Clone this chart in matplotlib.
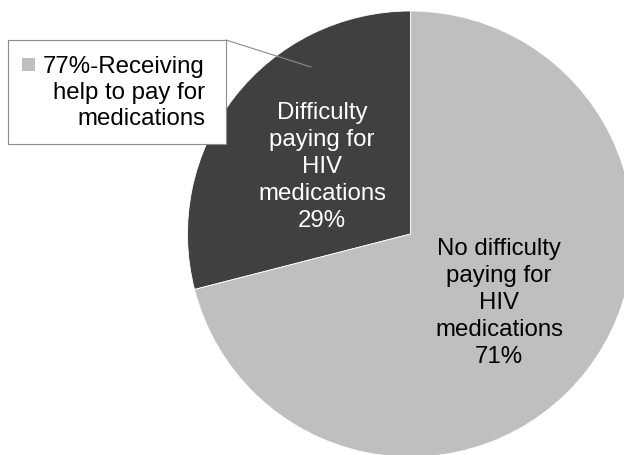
import matplotlib
matplotlib.use("Agg")
import matplotlib.pyplot as plt
from matplotlib.patches import Rectangle

plt.rcParams['font.family'] = ['Liberation Sans', 'DejaVu Sans']

# Data
categories = ["Difficulty paying for HIV medications",
              "No difficulty paying for HIV medications"]
shares = [29, 71]
slice_labels = ["Difficulty\npaying for\nHIV\nmedications\n29%",
                "No difficulty\npaying for\nHIV\nmedications\n71%"]
callout_text = "77%-Receiving\nhelp to pay for\nmedications"

colors = ["#404040", "#BFBFBF"]
text_colors = ["white", "black"]

W, H = 624, 456
fig = plt.figure(figsize=(W / 100, H / 100), dpi=100)
ax = fig.add_axes([0, 0, 1, 1])
ax.set_xlim(0, W)
ax.set_ylim(0, H)
ax.set_aspect("equal")
ax.axis("off")

cx, cy, r = 410.5, H - 235, 223
wedges, _ = ax.pie(shares, colors=colors, startangle=90, counterclock=True,
                   center=(cx, cy), radius=r, frame=True,
                   wedgeprops=dict(edgecolor="white", linewidth=0.6))
ax.set_xlim(0, W)
ax.set_ylim(0, H)
ax.axis("off")

# Slice labels
label_pos = [(322, H - 167), (499, H - 303)]
for txt, (x, y), c in zip(slice_labels, label_pos, text_colors):
    ax.text(x, y, txt, ha="center", va="center", fontsize=17.3, color=c,
            linespacing=1.28)

# Callout box with leader line
bx0, by0, bx1, by1 = 8, 41, 226, 145
ax.add_patch(Rectangle((bx0, H - by1), bx1 - bx0, by1 - by0,
                       facecolor="white", edgecolor="#8C8C8C", linewidth=0.8,
                       zorder=3))
ax.plot([bx1, 311], [H - by0, H - 68], color="#8C8C8C", linewidth=0.8,
        zorder=3)
ax.add_patch(Rectangle((22, H - 72), 13, 13, facecolor=colors[1],
                       edgecolor="none", zorder=4))
ax.text(205, H - 93, callout_text, ha="right", va="center", fontsize=17.3,
        color="black", linespacing=1.25, zorder=4)

fig.savefig("out.png", dpi=100)
